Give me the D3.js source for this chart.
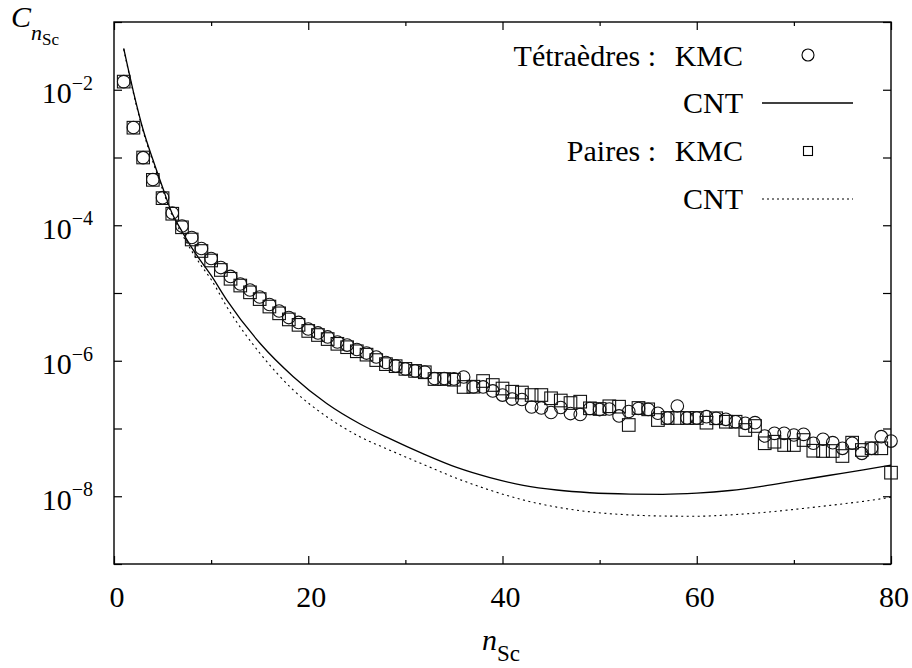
<!DOCTYPE html>
<html><head><meta charset="utf-8">
<script src="https://cdn.jsdelivr.net/npm/d3@7"></script>
</head><body style="margin:0">
<svg id="chart" width="912" height="668"></svg>
<script>
// ---- data (cluster concentration C_nSc, stored as log10 values) ----
const nKMC = [1,2,3,4,5,6,7,8,9,10,11,12,13,14,15,16,17,18,19,20,21,22,23,24,25,26,27,28,29,30,
  31,32,33,34,35,36,37,38,39,40,41,42,43,44,45,46,47,48,49,50,51,52,53,54,55,56,57,58,59,60,
  61,62,63,64,65,66,67,68,69,70,71,72,73,74,75,76,77,78,79,80];
const tetraKMCLog10 = [-1.881,-2.557,-3.003,-3.325,-3.593,-3.819,-4.011,-4.181,-4.343,-4.491,
  -4.624,-4.756,-4.867,-4.956,-5.059,-5.170,-5.266,-5.362,-5.435,-5.531,
  -5.590,-5.649,-5.723,-5.768,-5.834,-5.886,-5.945,-6.026,-6.077,-6.122,
  -6.151,-6.166,-6.262,-6.262,-6.269,-6.240,-6.387,-6.387,-6.446,-6.506,
  -6.565,-6.572,-6.683,-6.697,-6.764,-6.690,-6.779,-6.793,-6.705,-6.720,
  -6.712,-6.815,-6.749,-6.705,-6.717,-6.775,-6.845,-6.668,-6.845,-6.845,
  -6.826,-6.849,-6.864,-6.900,-6.923,-6.914,-7.111,-7.071,-7.071,-7.096,
  -7.086,-7.218,-7.159,-7.209,-7.292,-7.218,-7.366,-7.292,-7.121,-7.185];
const pairesKMCLog10 = [-1.88,-2.56,-3.00,-3.33,-3.60,-3.83,-4.03,-4.21,-4.38,-4.52,
  -4.66,-4.79,-4.89,-4.99,-5.09,-5.20,-5.30,-5.39,-5.47,-5.56,
  -5.62,-5.68,-5.75,-5.80,-5.86,-5.91,-5.99,-6.05,-6.08,-6.12,
  -6.15,-6.17,-6.27,-6.27,-6.28,-6.387,-6.383,-6.299,-6.358,-6.410,
  -6.457,-6.469,-6.506,-6.506,-6.554,-6.587,-6.624,-6.604,-6.702,-6.712,
  -6.672,-6.678,-6.948,-6.697,-6.717,-6.875,-6.845,-6.845,-6.845,-6.845,
  -6.914,-6.849,-6.900,-6.900,-7.022,-6.963,-7.218,-7.195,-7.244,-7.244,
  -7.170,-7.328,-7.332,-7.332,-7.406,-7.209,-7.317,-7.292,-7.292,-7.652];

const nCNT = [1,2,3,4,5,6,7,8,9,10,11.6,15.03,18.46,21.9,25.3,28.4,31.85,35.28,38.71,42.14,
  45.58,49,53.13,56.5,59.99,63.43,66.85,70.29,73.71,77.15,80];
const tetraCNTLog10 = [-1.39,-2.03,-2.59,-3.03,-3.44,-3.83,-4.09,-4.33,-4.54,-4.74,-5.10,-5.742,
  -6.235,-6.631,-6.930,-7.150,-7.375,-7.575,-7.725,-7.838,-7.908,-7.948,-7.968,-7.972,-7.955,-7.915,
  -7.850,-7.770,-7.690,-7.610,-7.539];
const pairesCNTLog10 = [-1.40,-2.05,-2.61,-3.06,-3.47,-3.86,-4.13,-4.38,-4.60,-4.80,-5.20,-5.89,
  -6.432,-6.826,-7.121,-7.320,-7.530,-7.735,-7.910,-8.055,-8.160,-8.230,-8.276,-8.292,-8.295,-8.275,
  -8.240,-8.190,-8.135,-8.075,-8.015];

const xTicks = [0,20,40,60,80];
const xMinorTicks = [10,30,50,70];
const yTicks = [1e-9,1e-8,1e-7,1e-6,1e-5,1e-4,1e-3,1e-2,1e-1];
const yLabelTicks = [1e-8,1e-6,1e-4,1e-2];
const yLabelExps = ["\u22128","\u22126","\u22124","\u22122"];
const legendLabels = [["Tétraèdres :","KMC"],["","CNT"],["Paires :","KMC"],["","CNT"]];

// ---- layout ----
const FONT = "Times New Roman, Liberation Serif, Tinos, serif";
const L = 114, R = 891, T = 22, B = 564;
const svg = d3.select("#chart");
const x = d3.scaleLinear().domain([0,80]).range([L,R]);
const y = d3.scaleLog().domain([1e-9,1e-1]).range([B,T]);
const toPts = (ns, logs) => ns.map((n,i)=>[n, Math.pow(10, logs[i])]);

// frame
svg.append("rect").attr("x",L).attr("y",T).attr("width",R-L).attr("height",B-T)
  .attr("fill","none").attr("stroke","#000").attr("stroke-width",1.4);

// axes (ticks inward, labels drawn separately)
const axStyle = g => { g.select(".domain").remove(); g.selectAll("text").remove(); g.selectAll("line").attr("stroke","#000").attr("stroke-width",1.2); };
svg.append("g").attr("transform",`translate(0,${B})`)
  .call(d3.axisBottom(x).tickValues(xTicks).tickSize(-8)).call(axStyle);
svg.append("g").attr("transform",`translate(0,${B})`)
  .call(d3.axisBottom(x).tickValues(xMinorTicks).tickSize(-4)).call(axStyle);
svg.append("g").attr("transform",`translate(0,${T})`)
  .call(d3.axisTop(x).tickValues(xTicks).tickSize(-8)).call(axStyle);
svg.append("g").attr("transform",`translate(0,${T})`)
  .call(d3.axisTop(x).tickValues(xMinorTicks).tickSize(-4)).call(axStyle);
svg.append("g").attr("transform",`translate(${L},0)`)
  .call(d3.axisLeft(y).tickValues(yTicks).tickSize(-8)).call(axStyle);
svg.append("g").attr("transform",`translate(${R},0)`)
  .call(d3.axisRight(y).tickValues(yTicks).tickSize(-8)).call(axStyle);

// x tick labels
xTicks.forEach(v=>{
  svg.append("text").attr("x",x(v)+3).attr("y",607).attr("font-size",30).attr("font-family",FONT)
    .attr("text-anchor","middle").text(String(v));
});

// y tick labels 10^k
yLabelTicks.forEach((v,i)=>{
  const t = svg.append("text").attr("x",93).attr("y",y(v)+13.5).attr("font-family",FONT).attr("text-anchor","end");
  t.append("tspan").attr("font-size",30).text("10");
  t.append("tspan").attr("font-size",20).attr("dy",-13.5).text(yLabelExps[i]);
});

// axis titles
const xt = svg.append("text").attr("x",482).attr("y",650).attr("font-family",FONT);
xt.append("tspan").attr("font-size",30).attr("font-style","italic").text("n");
xt.append("tspan").attr("font-size",23).attr("dy",11).text("Sc");
const yt = svg.append("text").attr("x",11).attr("y",27).attr("font-family",FONT);
yt.append("tspan").attr("font-size",30).attr("font-style","italic").text("C");
yt.append("tspan").attr("font-size",22).attr("font-style","italic").attr("dy",13).text("n");
yt.append("tspan").attr("font-size",17).attr("dy",5).text("Sc");

// CNT curves
const line = d3.line().x(d=>x(d[0])).y(d=>y(d[1])).curve(d3.curveMonotoneX);
svg.append("path").datum(toPts(nCNT,pairesCNTLog10)).attr("d",line)
  .attr("fill","none").attr("stroke","#000").attr("stroke-width",1.1).attr("stroke-dasharray","2,3.5");
svg.append("path").datum(toPts(nCNT,tetraCNTLog10)).attr("d",line)
  .attr("fill","none").attr("stroke","#000").attr("stroke-width",1.3);

// KMC markers
const S = 12.6;
svg.append("g").selectAll("rect").data(toPts(nKMC,pairesKMCLog10)).join("rect")
  .attr("x",d=>x(d[0])-S/2).attr("y",d=>y(d[1])-S/2).attr("width",S).attr("height",S)
  .attr("fill","none").attr("stroke","#111").attr("stroke-width",1.1);
svg.append("g").selectAll("circle").data(toPts(nKMC,tetraKMCLog10)).join("circle")
  .attr("cx",d=>x(d[0])).attr("cy",d=>y(d[1])).attr("r",6.3)
  .attr("fill","none").attr("stroke","#111").attr("stroke-width",1.1);

// legend
const rowBase = [66, 113, 161, 209];
legendLabels.forEach((lab,i)=>{
  if (lab[0]) svg.append("text").attr("x",656).attr("y",rowBase[i]).attr("font-size",30).attr("font-family",FONT).attr("text-anchor","end").text(lab[0]);
  svg.append("text").attr("x",743).attr("y",rowBase[i]).attr("font-size",30).attr("font-family",FONT).attr("text-anchor","end").text(lab[1]);
});
svg.append("circle").attr("cx",808).attr("cy",rowBase[0]-11).attr("r",6)
  .attr("fill","none").attr("stroke","#000").attr("stroke-width",1.1);
svg.append("line").attr("x1",762).attr("x2",853).attr("y1",rowBase[1]-10).attr("y2",rowBase[1]-10)
  .attr("stroke","#000").attr("stroke-width",1.3);
svg.append("rect").attr("x",808-4.5).attr("y",rowBase[2]-10-4.5).attr("width",9).attr("height",9)
  .attr("fill","none").attr("stroke","#000").attr("stroke-width",1.1);
svg.append("line").attr("x1",762).attr("x2",853).attr("y1",rowBase[3]-10).attr("y2",rowBase[3]-10)
  .attr("stroke","#000").attr("stroke-width",1.1).attr("stroke-dasharray","2,3");
</script></body></html>
